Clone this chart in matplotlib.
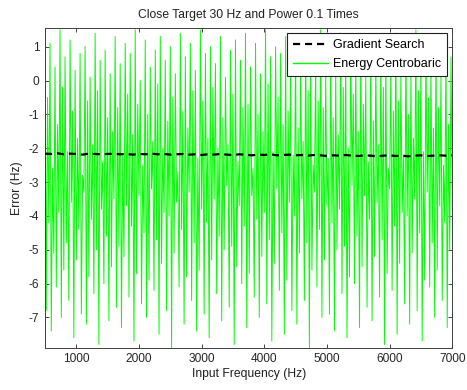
import numpy as np
import matplotlib
matplotlib.use("Agg")
import matplotlib.pyplot as plt

plt.rcParams['font.family'] = ['Liberation Sans', 'DejaVu Sans']
plt.rcParams['axes.unicode_minus'] = False

title = "Close Target 30 Hz and Power 0.1 Times"
xlabel = "Input Frequency (Hz)"
ylabel = "Error (Hz)"
series_names = ["Gradient Search", "Energy Centrobaric"]

freq_start, freq_stop, freq_step = 500, 7000, 20

energy_centrobaric = [
    0.9, -6.8, -0.5, -4.2, 1.1, -7.4, -2.6, -5.1, 0.4, -6.1, -1.3, -3.9, 1.5, -7.0, -0.2, -5.6, 0.7, -4.8, -2.1, -6.5,
    1.2, -3.6, -0.9, -7.6, 0.3, -5.3, -1.7, -4.4, 0.8, -6.9, -2.8, -3.3, 1.0, -7.2, -0.6, -5.8, 0.1, -4.1, -1.9, -6.3,
    1.4, -5.0, -0.3, -7.8, 0.6, -3.8, -2.4, -6.0, 0.9, -4.6, -1.1, -7.1, 0.2, -5.5, -1.5, -3.5, 1.3, -6.7, -0.8, -4.9,
    0.5, -7.3, -2.2, -5.2, 1.1, -3.7, -0.4, -6.4, 0.8, -4.3, -1.6, -7.7, 1.5, -5.7, -0.7, -3.4, 0.0, -6.6, -2.5, -4.5,
    1.2, -7.0, -1.0, -5.9, 0.4, -3.2, -1.8, -6.2, 0.9, -4.7, -0.1, -7.5, 1.3, -5.4, -2.0, -3.9, 0.6, -6.8, -1.2, -4.0,
    1.0, -7.9, -0.5, -5.1, 0.2, -3.6, -2.7, -6.1, 1.4, -4.4, -0.9, -7.2, 0.7, -5.8, -1.4, -3.3, 1.1, -6.5, -0.3, -4.8,
    0.3, -7.4, -2.3, -5.6, 1.5, -3.8, -0.6, -6.9, 0.8, -4.2, -1.7, -7.6, 1.0, -5.3, -0.2, -3.5, 0.5, -6.3, -2.0, -4.6,
    1.3, -7.1, -1.1, -5.0, 0.1, -3.1, -1.9, -6.7, 0.9, -4.9, -0.4, -7.8, 1.2, -5.5, -2.4, -3.7, 0.6, -6.0, -0.8, -4.3,
    1.4, -7.3, -0.7, -5.7, 0.4, -3.4, -2.6, -6.4, 1.1, -4.1, -1.0, -7.0, 0.2, -5.2, -1.5, -3.9, 1.5, -6.6, -0.1, -4.7,
    0.7, -7.7, -2.1, -5.4, 1.0, -3.2, -0.5, -6.2, 0.8, -4.5, -1.3, -7.5, 1.3, -5.9, -0.9, -3.6, 0.3, -6.8, -2.2, -4.0,
    1.1, -7.2, -1.4, -5.1, 0.5, -3.5, -1.8, -6.5, 1.2, -4.8, -0.3, -7.9, 0.9, -5.6, -2.5, -3.3, 0.6, -6.1, -0.6, -4.4,
    1.5, -7.0, -0.8, -5.3, 0.2, -3.7, -2.3, -6.9, 1.0, -4.2, -1.1, -7.4, 0.4, -5.0, -1.6, -3.8, 1.4, -6.3, -0.2, -4.9,
    0.8, -7.6, -2.0, -5.8, 1.2, -3.1, -0.4, -6.0, 0.7, -4.6, -1.5, -7.3, 1.3, -5.5, -0.7, -3.4, 0.1, -6.7, -2.4, -4.1,
    1.0, -7.1, -1.2, -5.2, 0.6, -3.6, -1.9, -6.4, 1.1, -4.7, -0.2, -7.8, 0.9, -5.7, -2.6, -3.2, 0.5, -6.2, -0.9, -4.3,
    1.4, -7.5, -0.6, -5.4, 0.3, -3.9, -2.2, -6.6, 1.2, -4.0, -1.0, -7.2, 0.4, -5.1, -1.7, -3.5, 1.5, -6.8, -0.3, -4.5,
    0.9, -7.7, -2.1, -5.9, 1.1, -3.3, -0.5, -6.1, 0.6, -4.8, -1.4, -7.0, 1.3, -5.6, -0.8, -3.7, 0.2, -6.5, -2.5, -4.2,
    1.0, -7.3, -1.3, -5.0, 0.7, -3.8,
]

gradient_step = 100
gradient_search = [
    -2.16, -2.17, -2.15, -2.18, -2.16, -2.17, -2.19, -2.16, -2.17, -2.18,
    -2.17, -2.16, -2.18, -2.17, -2.19, -2.17, -2.18, -2.16, -2.18, -2.17,
    -2.19, -2.18, -2.17, -2.19, -2.18, -2.20, -2.18, -2.19, -2.17, -2.19,
    -2.20, -2.18, -2.19, -2.21, -2.19, -2.20, -2.18, -2.21, -2.20, -2.19,
    -2.21, -2.20, -2.22, -2.20, -2.21, -2.23, -2.21, -2.22, -2.20, -2.22,
    -2.23, -2.21, -2.22, -2.24, -2.22, -2.21, -2.23, -2.22, -2.24, -2.22,
    -2.21, -2.23, -2.22, -2.21, -2.22, -2.21,
]

x_green = np.arange(freq_start, freq_stop + 1, freq_step)[:len(energy_centrobaric)]
x_black = np.arange(freq_start, freq_stop + 1, gradient_step)[:len(gradient_search)]

fig = plt.figure(figsize=(4.67, 3.90), dpi=100)
ax = fig.add_axes([0.0964, 0.108, 0.872, 0.820])

ax.plot(x_black, gradient_search, color='black', lw=1.6, ls=(0, (3.2, 2.2)), label=series_names[0], zorder=3)
ax.plot(x_green, energy_centrobaric, color=(0, 1, 0), lw=0.7, label=series_names[1], zorder=2)

ax.set_xlim(freq_start, freq_stop)
ax.set_ylim(min(energy_centrobaric), max(energy_centrobaric) + 0.05)
ax.set_xticks([1000, 2000, 3000, 4000, 5000, 6000, 7000])
ax.set_yticks([-7, -6, -5, -4, -3, -2, -1, 0, 1])

ax.tick_params(direction='in', top=True, right=True, length=3, width=0.6,
               labelsize=8.6, colors='#262626', pad=4)
for s in ax.spines.values():
    s.set_color('#404040')
    s.set_linewidth(0.7)

ax.set_title(title, fontsize=8.7, pad=7, color='#202020')
ax.set_xlabel(xlabel, fontsize=8.7, labelpad=2, color='#202020')
ax.set_ylabel(ylabel, fontsize=8.7, labelpad=4, color='#202020')

leg = ax.legend(loc='upper right', fontsize=9, fancybox=False, framealpha=1,
                edgecolor='#202020', borderpad=0.5, handlelength=2.8,
                labelspacing=0.55, handletextpad=0.4, borderaxespad=0.4)
leg.get_frame().set_linewidth(0.8)
leg.get_lines()[1].set_linewidth(1.0)

fig.savefig("out.png", dpi=100)
